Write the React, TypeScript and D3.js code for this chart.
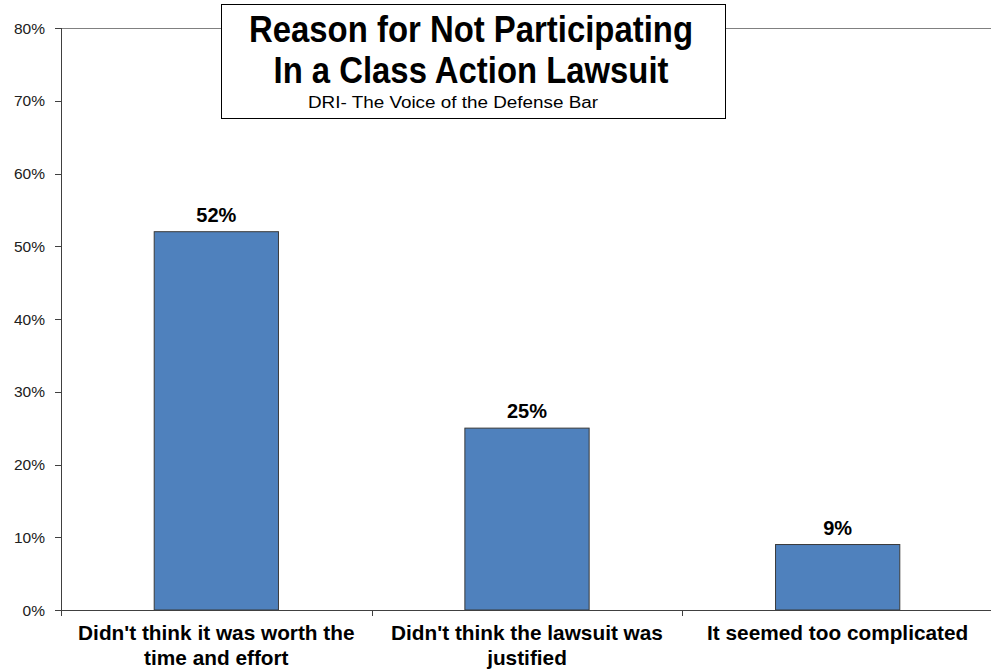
import React from "react";
import * as d3 from "d3";

const categories = [
  "Didn't think it was worth the time and effort",
  "Didn't think the lawsuit was justified",
  "It seemed too complicated",
];
const categoryLines = [
  ["Didn't think it was worth the", "time and effort"],
  ["Didn't think the lawsuit was", "justified"],
  ["It seemed too complicated"],
];
const values = [52, 25, 9];
const yTicks = [0, 10, 20, 30, 40, 50, 60, 70, 80];
const titleLines = ["Reason for Not Participating", "In a Class Action Lawsuit"];
const subtitle = "DRI- The Voice of the Defense Bar";

export default function App() {
  const W = 991, H = 672;
  const left = 61, right = 993, top = 28, bottom = 610;
  const x = d3.scaleBand<string>().domain(categories).range([left, right]).paddingInner(0.6).paddingOuter(0.3);
  const xb = d3.scaleBand<string>().domain(categories).range([left, right]);
  const y = d3.scaleLinear().domain([0, 80]).range([bottom, top]);
  const font = "Arial, 'Liberation Sans', Helvetica, sans-serif";
  const titleWidths = [444, 395];
  return (
    <svg width={W} height={H} style={{ position: "absolute", left: 0, top: 0, background: "#fff" }} fontFamily={font}>
      <rect x={0} y={0} width={W} height={H} fill="#fff" />
      {/* top border */}
      <line x1={left} x2={W} y1={top + 0.5} y2={top + 0.5} stroke="#808080" strokeWidth={1} />
      {/* bars */}
      {categories.map((c, i) => (
        <g key={c}>
          <rect x={x(c)} y={y(values[i])} width={x.bandwidth()} height={bottom - y(values[i])}
            fill="#4F81BD" stroke="#3a3a3a" strokeWidth={1} />
          <text x={x(c)! + x.bandwidth() / 2} y={y(values[i]) - 10} textAnchor="middle"
            fontSize={20} fontWeight="bold" fill="#000">{values[i]}%</text>
        </g>
      ))}
      {/* y axis */}
      <line x1={left + 0.5} x2={left + 0.5} y1={top} y2={bottom + 6} stroke="#404040" strokeWidth={1} />
      {yTicks.map(t => (
        <g key={t}>
          <line x1={left - 6} x2={left} y1={Math.round(y(t)) + 0.5} y2={Math.round(y(t)) + 0.5} stroke="#404040" />
          <text x={45} y={y(t) + 5.5} textAnchor="end" fontSize={15.5} fill="#202020">{t}%</text>
        </g>
      ))}
      {/* x axis */}
      <line x1={left} x2={W} y1={bottom + 0.5} y2={bottom + 0.5} stroke="#404040" strokeWidth={1} />
      {categories.slice(1).map(c => (
        <line key={c} x1={Math.round(xb(c)!) + 0.5} x2={Math.round(xb(c)!) + 0.5} y1={bottom} y2={bottom + 6} stroke="#404040" />
      ))}
      {categories.map((c, i) => (
        <text key={c} textAnchor="middle" fontSize={20.8} fontWeight="bold" fill="#000">
          {categoryLines[i].map((ln, j) => (
            <tspan key={j} x={xb(c)! + xb.bandwidth() / 2} y={640 + j * 25}>{ln}</tspan>
          ))}
        </text>
      ))}
      {/* title box */}
      <rect x={221.5} y={4.5} width={504} height={114} fill="#fff" stroke="#000" strokeWidth={1} />
      {titleLines.map((t, i) => (
        <text key={i} x={471} y={42 + i * 41} textAnchor="middle" fontSize={37} fontWeight="bold" fill="#000"
          textLength={titleWidths[i]} lengthAdjust="spacingAndGlyphs">{t}</text>
      ))}
      <text x={453} y={108} textAnchor="middle" fontSize={16} fill="#000" textLength={290} lengthAdjust="spacingAndGlyphs">{subtitle}</text>
    </svg>
  );
}
